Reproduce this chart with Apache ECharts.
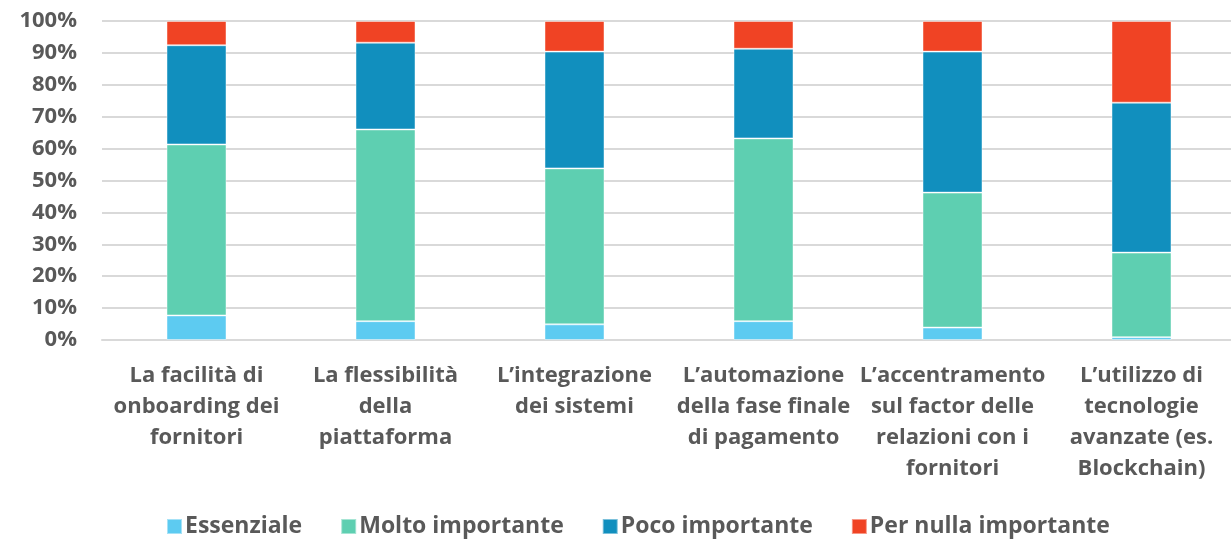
<!DOCTYPE html>
<html>
<head>
<meta charset="utf-8">
<script src="https://cdn.jsdelivr.net/npm/echarts@6/dist/echarts.min.js"></script>
<style>
  html, body { margin: 0; padding: 0; background: #fff; }
  #chart { width: 1231px; height: 539px; }
</style>
</head>
<body>
<div id="chart"></div>
<script>
// categorie (a capo come nell'originale)
const categories = [
  'La facilità di\nonboarding dei\nfornitori',
  'La flessibilità\ndella\npiattaforma',
  'L’integrazione\ndei sistemi',
  'L’automazione\ndella fase finale\ndi pagamento',
  'L’accentramento\nsul factor delle\nrelazioni con i\nfornitori',
  'L’utilizzo di\ntecnologie\navanzate (es.\nBlockchain)'
];
const essenziale = [7.7, 5.9, 4.9, 5.9, 3.9, 0.9];
const moltoImportante = [53.6, 60.1, 48.9, 57.3, 42.3, 26.5];
const pocoImportante = [31.1, 27.2, 36.6, 28.1, 44.2, 47.0];
const perNullaImportante = [7.6, 6.8, 9.6, 8.7, 9.6, 25.6];
const yTicks = [0, 10, 20, 30, 40, 50, 60, 70, 80, 90, 100];

const textColor = '#595959';
const font = '"Open Sans", "Noto Sans", sans-serif';

const chart = echarts.init(document.getElementById('chart'));

function barSeries(name, data, color) {
  return {
    name: name,
    type: 'bar',
    stack: 'tot',
    barWidth: 60,
    data: data,
    itemStyle: {
      color: color,
      borderColor: 'rgba(255,255,255,0.45)',
      borderWidth: 1
    }
  };
}

const option = {
  animation: false,
  textStyle: { fontFamily: font },
  grid: {
    left: 102,
    width: 1134,
    top: 21,
    bottom: 199,
    outerBoundsMode: 'none'
  },
  legend: {
    bottom: -4,
    left: 161,
    itemWidth: 15,
    itemHeight: 15,
    itemGap: 38,
    icon: 'rect',
    textStyle: {
      color: textColor,
      fontSize: 23,
      fontWeight: 'bold',
      fontFamily: font,
      padding: [0, 0, 0, -2]
    },
    data: ['Essenziale', 'Molto importante', 'Poco importante', 'Per nulla importante']
  },
  xAxis: {
    type: 'category',
    data: categories,
    axisTick: { show: false },
    axisLine: { lineStyle: { color: '#d9d9d9', width: 2 } },
    axisLabel: {
      interval: 0,
      margin: 20,
      color: textColor,
      fontSize: 22,
      fontWeight: 'bold',
      fontFamily: font,
      lineHeight: 31
    }
  },
  yAxis: {
    type: 'value',
    min: yTicks[0],
    max: yTicks[yTicks.length - 1],
    interval: 10,
    axisLine: { show: false },
    axisTick: { show: false },
    splitLine: { lineStyle: { color: '#d9d9d9', width: 2 } },
    axisLabel: {
      formatter: '{value}%',
      margin: 25,
      color: textColor,
      fontSize: 22,
      fontWeight: 'bold',
      fontFamily: font
    }
  },
  series: [
    barSeries('Essenziale', essenziale, '#5DCBF1'),
    barSeries('Molto importante', moltoImportante, '#5ECFB1'),
    barSeries('Poco importante', pocoImportante, '#118FBE'),
    barSeries('Per nulla importante', perNullaImportante, '#F04324')
  ]
};

chart.setOption(option);
</script>
</body>
</html>
